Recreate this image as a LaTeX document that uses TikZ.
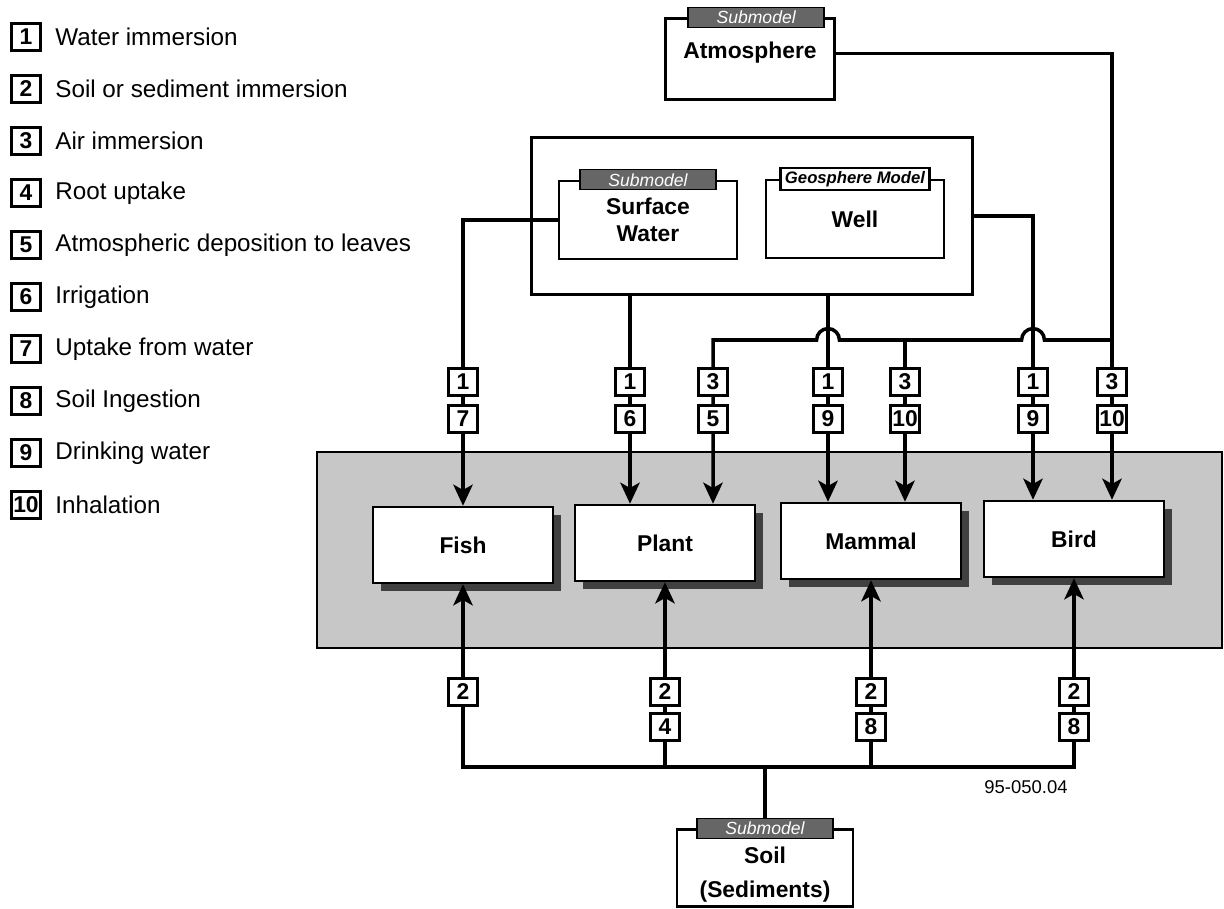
\documentclass[tikz,border=0pt]{standalone}
\usepackage{fontspec}
\setmainfont{Liberation Sans}
\usetikzlibrary{arrows.meta,shadows}

\begin{document}
\begin{tikzpicture}[x=0.02cm,y=-0.02cm,
    box/.style={draw,line width=1.4pt,fill=white,align=center,font=\bfseries\fontsize{13}{15.5}\selectfont,minimum width=3.56cm,minimum height=1.56cm,inner sep=0pt},
    animal/.style={box,minimum width=3.6cm,minimum height=1.52cm,drop shadow={shadow xshift=4.5pt,shadow yshift=-4.5pt,fill=black!75,opacity=1}},
    subtag/.style={draw,line width=0.8pt,fill=black!60,text=white,font=\itshape\fontsize{10}{11}\selectfont,minimum width=2.72cm,minimum height=0.4cm,inner sep=0pt},
    geotag/.style={subtag,fill=white,text=black,line width=1.4pt,font=\bfseries\itshape\fontsize{9.5}{11}\selectfont,minimum width=2.98cm,minimum height=0.44cm},
    num/.style={draw,line width=1.5pt,fill=white,font=\bfseries\fontsize{13}{13}\selectfont,minimum width=0.58cm,minimum height=0.54cm,inner sep=0pt},
    key/.style={anchor=west,font=\fontsize{13.8}{16}\selectfont,inner sep=0pt},
    link/.style={line width=2pt},
    flow/.style={link,-{Stealth[length=12pt,width=11pt,inset=3pt]}}]
    \useasboundingbox (0,0) rectangle (1224,909);

    \foreach \n/\t [count=\i from 0] in {1/Water immersion,2/Soil or sediment immersion,3/Air immersion,4/Root uptake,5/Atmospheric deposition to leaves,6/Irrigation,7/Uptake from water,8/Soil Ingestion,9/Drinking water,10/Inhalation} {
        \node[num] (k\n) at (26,37+52*\i) {\n};
        \node[key] (kt\n) at (55,37+52*\i) {\t};
    }

    \node[box,minimum width=3.38cm,minimum height=1.62cm,text depth=10pt] (atm) at (750,59) {Atmosphere};
    \node[subtag] (atmtag) at ([xshift=3.5pt]atm.north) {Submodel};
    \node[draw,line width=1.4pt,minimum width=8.82cm,minimum height=3.14cm,inner sep=0pt] (wat) at (752,216) {};
    \node[box] (sw) at (648,220) {Surface\\Water};
    \node[subtag] (swtag) at (sw.north) {Submodel};
    \node[box] (well) at (855,219) {Well};
    \node[geotag] (welltag) at (well.north) {Geosphere Model};

    \draw[line width=1pt,fill=black!22] (317,452) rectangle (1222,648);
    \node[animal] (fish) at (463,545) {Fish};
    \node[animal] (plant) at (665,543) {Plant};
    \node[animal] (mammal) at (871,541) {Mammal};
    \node[animal] (bird) at (1074,539) {Bird};

    \node[box,minimum width=3.52cm,minimum height=1.54cm] (soil) at (765,868)
        {\raisebox{-4pt}[\height][\depth]{\begin{tabular}{@{}c@{}}Soil\\[4pt](Sediments)\end{tabular}}};
    \node[subtag] (soiltag) at (soil.north) {Submodel};
    \node[font=\fontsize{10.5}{12}\selectfont] (code) at (1026,787) {95-050.04};

    \coordinate (pw) at (630,0);
    \coordinate (pa) at (713,0);
    \coordinate (mw) at (828,0);
    \coordinate (ma) at (905,0);
    \coordinate (bw) at (1033,0);
    \coordinate (ba) at (1112,0);
    \coordinate (airj) at (1112,340);
    \coordinate (sj) at (765,767);

    \draw[flow] (sw.west) -| (fish.north);
    \draw[flow] (pw |- wat.south) -- (pw |- plant.north);
    \draw[flow] (mw |- wat.south) -- (mw |- mammal.north);
    \draw[flow] (wat.east) -| (bw |- bird.north);
    \draw[flow] ([yshift=3pt]atm.east) -| (ba |- bird.north);
    \draw[flow] (airj) -- ([xshift=6.5pt]bw |- airj) arc[start angle=0,end angle=180,radius=6.5pt]
        -- ([xshift=6.5pt]mw |- airj) arc[start angle=0,end angle=180,radius=6.5pt]
        -- (pa |- airj) -- (pa |- plant.north);
    \draw[flow] (ma |- airj) -- (ma |- mammal.north);

    \draw[link] (sj) -- (soiltag.north);
    \draw[flow] (sj) -| (fish.south);
    \draw[flow] (sj) -| (bird.south);
    \draw[flow] (sj -| plant.south) -- (plant.south);
    \draw[flow] (sj -| mammal.south) -- (mammal.south);

    \foreach \x/\p/\q [count=\i] in {463/1/7,630/1/6,713/3/5,828/1/9,905/3/10,1033/1/9,1112/3/10} {
        \node[num] (ta\i) at (\x,382) {\p};
        \node[num] (tb\i) at (\x,419) {\q};
    }
    \node[num] (bs1) at (463,692) {2};
    \foreach \x/\p/\q [count=\i from 2] in {665/2/4,871/2/8,1074/2/8} {
        \node[num] (bs\i) at (\x,692) {\p};
        \node[num] (bt\i) at (\x,727) {\q};
    }
\end{tikzpicture}
\end{document}
